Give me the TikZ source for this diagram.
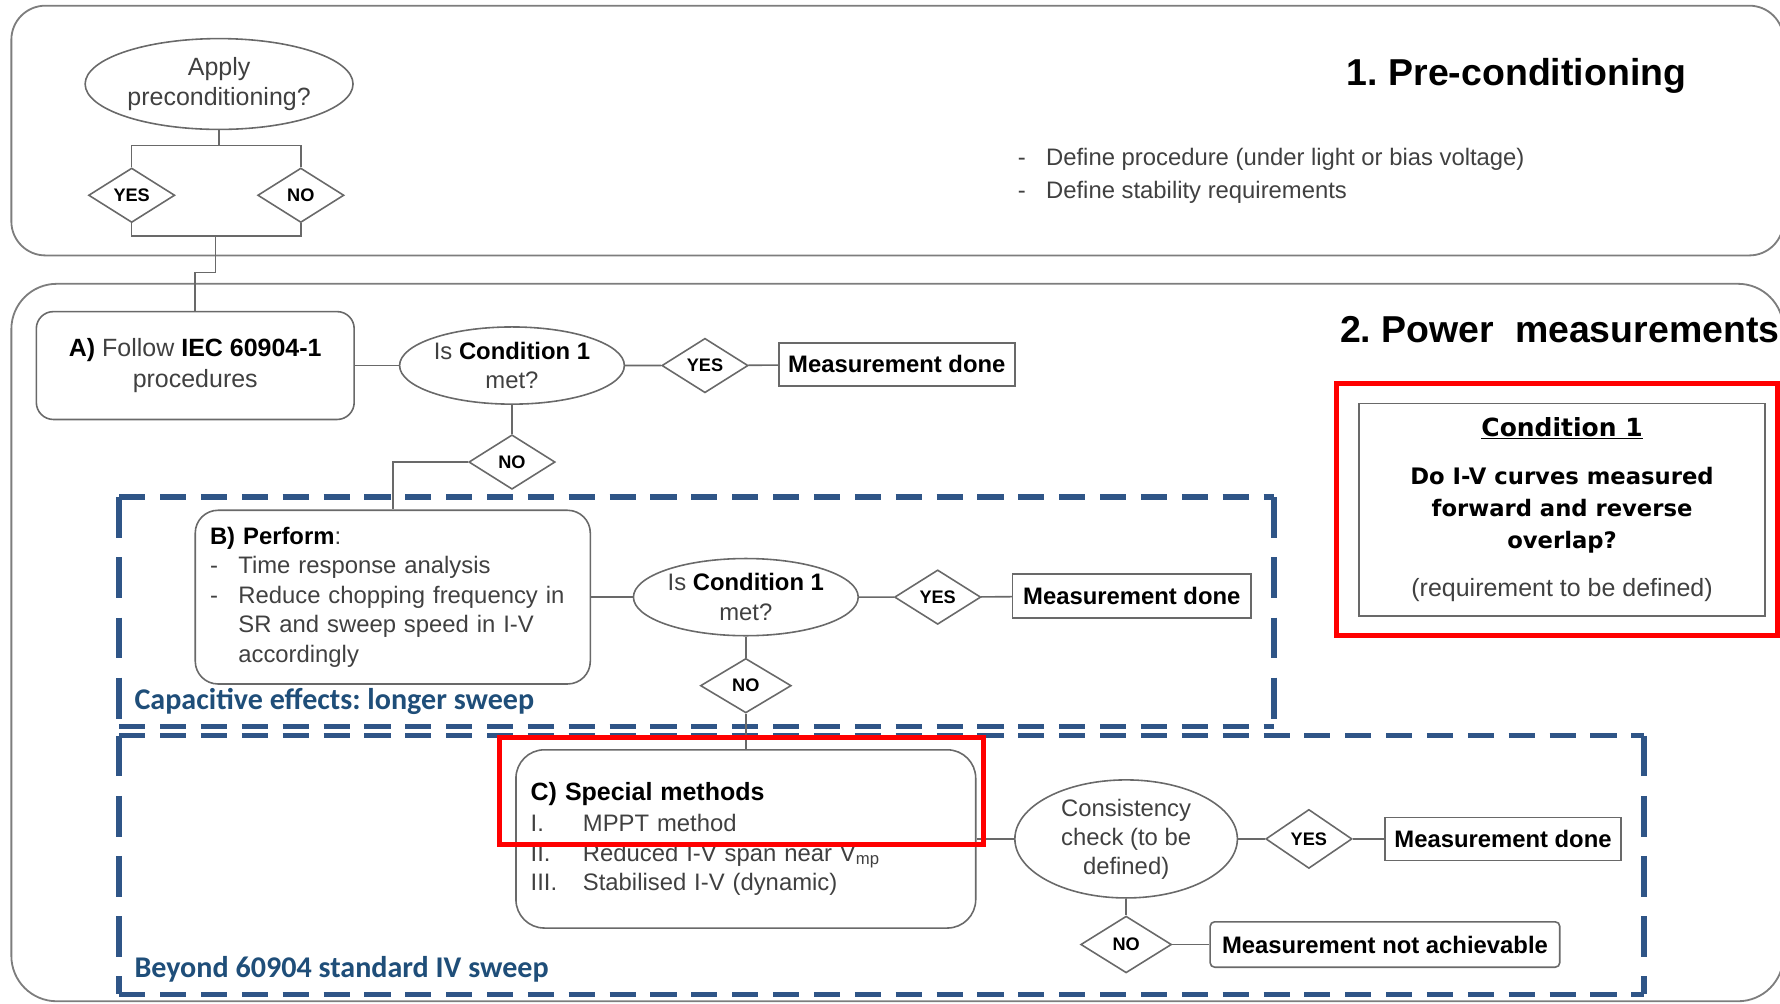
\documentclass[tikz,border=0pt]{standalone}
\usepackage{fontspec}
\setmainfont{Liberation Sans}
\newfontfamily\verdfont{DejaVu Sans}
\newfontfamily\calfont{Carlito}
\usetikzlibrary{shapes.geometric}
\usetikzlibrary{positioning}
\definecolor{mgray}{RGB}{64, 64, 64}
\definecolor{mline}{RGB}{105, 105, 105}
\definecolor{mframe}{RGB}{125, 125, 125}
\definecolor{mdash}{RGB}{47, 85, 135}
\definecolor{mteal}{RGB}{31, 78, 121}
\definecolor{mred}{RGB}{255, 0, 0}
\newcommand{\dashitem}{\makebox[25pt][l]{-}}
\newcommand{\romitem}[1]{\makebox[46pt][l]{#1}}
\frenchspacing

\begin{document}
\begin{tikzpicture}[x=1pt, y=-1pt,
    question/.style={ellipse, draw=mline, line width=1.4pt, inner sep=0pt, align=center, text=mgray, font=\fontsize{21}{26}\selectfont},
    answer/.style={diamond, draw=mline, line width=1.4pt, inner sep=0pt, minimum width=76pt, minimum height=48pt, font=\fontsize{16}{18}\selectfont\bfseries},
    outcome/.style={rectangle, draw=mline, line width=1.4pt, inner sep=0pt, minimum width=208pt, minimum height=38pt, font=\fontsize{21}{24}\selectfont\bfseries},
    procbox/.style={rectangle, draw=mline, line width=1.4pt, text=mgray, inner xsep=13pt},
    link/.style={draw=mline, line width=1.4pt},
    stage/.style={draw=mframe, line width=1.6pt},
    region/.style={draw=mdash, line width=5pt, dash pattern=on 23pt off 13pt},
    regionside/.style={region, dash pattern=on 36pt off 17pt},
    hilite/.style={draw=mred, line width=4.5pt},
    tag/.style={anchor=base west, text=mteal, font=\calfont\bfseries\fontsize{26.5}{30}\selectfont},
    heading/.style={anchor=base west, font=\bfseries\fontsize{33}{38}\selectfont},
  ]
    \useasboundingbox (0, 0) rectangle (1568, 884);
    \clip (0, 0) rectangle (1568, 884);

    % the two stages
    \draw [stage, rounded corners=30pt] (10, 5) rectangle (1571, 225);
    \draw [stage, rounded corners=40pt] (10, 250) rectangle (1571, 882);
    \draw [region] (105, 438) -- (1122, 438) (105, 640) -- (1122, 640);
    \draw [regionside] (105, 438) -- (105, 640) (1122, 438) -- (1122, 640);
    \draw [region] (105, 648) -- (1448, 648) (105, 876) -- (1448, 876);
    \draw [regionside] (105, 648) -- (105, 876) (1448, 648) -- (1448, 876);

    \node [heading] (pretitle) at (1183, 75) {1. Pre-conditioning};
    \node [heading] (powtitle) at (1177, 302) {2. Power~ measurements};
    \node [anchor=base west, align=left, text=mgray, font=\fontsize{21}{29}\selectfont] (prenotes) at (893, 175)
      {\dashitem Define procedure (under light or bias voltage)\\ \dashitem Define stability requirements};

    % pre-conditioning choice
    \node [question, minimum width=236pt, minimum height=80pt, font=\fontsize{22}{27}\selectfont] (apply) at (193, 74) {Apply\\ preconditioning?};
    \node [answer] (pyes) at (116, 172) {YES};
    \node [answer] (pno) at (265, 172) {NO};
    \coordinate (split) at (193, 128);
    \coordinate (merge) at (190, 208);

    % A) standard procedure
    \node [procbox, rounded corners=15pt, minimum width=280pt, minimum height=95pt, align=center, font=\fontsize{22}{28}\selectfont] (procA) at (172, 322)
      {\textcolor{black}{\textbf{A)}} Follow \textcolor{black}{\textbf{IEC 60904-1}}\\ procedures};
    \node [question, minimum width=198pt, minimum height=68pt] (cond1) at (451, 322) {Is \textcolor{black}{\textbf{Condition 1}}\\ met?};
    \node [answer] (yes1) at (621, 322) {YES};
    \node [outcome] (done1) at (790, 321) {Measurement done};
    \node [answer] (no1) at (451, 407) {NO};

    % B) longer sweep
    \node [procbox, rounded corners=20pt, minimum width=348pt, minimum height=153pt, text width=322pt, align=left, font=\fontsize{21}{26}\selectfont] (procB) at (346, 526)
      {\textcolor{black}{\textbf{B) Perform}}:\\ \dashitem Time response analysis\\ \dashitem Reduce chopping frequency in\\ \hspace*{25pt}SR and sweep speed in I-V\\ \hspace*{25pt}accordingly};
    \node [question, minimum width=198pt, minimum height=68pt] (cond2) at (657, 526) {Is \textcolor{black}{\textbf{Condition 1}}\\ met?};
    \node [answer] (yes2) at (826, 526) {YES};
    \node [outcome, minimum width=210pt, minimum height=39pt] (done2) at (997, 525) {Measurement done};
    \node [answer, minimum width=80pt] (no2) at (657, 604) {NO};

    % C) special methods
    \node [procbox, rounded corners=25pt, minimum width=405pt, minimum height=157pt, text width=379pt, align=left, font=\fontsize{21}{26}\selectfont] (procC) at (657, 739)
      {\textcolor{black}{\bfseries\fontsize{22}{26}\selectfont C) Special methods}\\[2pt] \romitem{I.}MPPT method\\ \romitem{II.}Reduced I-V span near V\textsubscript{mp}\\ \romitem{III.}Stabilised I-V (dynamic)};
    \node [question, minimum width=196pt, minimum height=104pt, font=\fontsize{21}{25.5}\selectfont] (check) at (992, 739) {Consistency\\ check (to be\\ defined)};
    \node [answer, minimum height=52pt] (yes3) at (1153, 739) {YES};
    \node [outcome] (done3) at (1324, 739) {Measurement done};
    \node [answer, minimum width=80pt, minimum height=50pt] (no3) at (992, 832) {NO};
    \node [outcome, rounded corners=4pt, minimum width=308pt, minimum height=40pt] (fail) at (1220, 832) {Measurement not achievable};

    % condition box
    \node [rectangle, draw=mline, line width=1.4pt, minimum width=358pt, minimum height=187pt, align=center, font=\fontsize{20}{28.5}\selectfont] (condbox) at (1376, 449)
      {{\verdfont\bfseries\fontsize{22}{24}\selectfont\underline{Condition 1}}\\[13.5pt]
       {\verdfont\bfseries Do I-V curves measured}\\ {\verdfont\bfseries forward and reverse}\\ {\verdfont\bfseries overlap?}\\[13.5pt]
       {\color{mgray}\fontsize{22}{26}\selectfont(requirement to be defined)}};

    % connectors
    \draw [link] (apply.south) -- (split);
    \draw [link] (pyes.north) |- (split) -| (pno.north);
    \draw [link] (pyes.south) |- (merge) -| (pno.south);
    \draw [link] (merge) -- ++(0, 32) -| (procA.north);
    \draw [link] (procA.east) -- (cond1.west);
    \draw [link] (cond1) -- (yes1) -- (done1);
    \draw [link] (cond1) -- (no1);
    \draw [link] (no1.west) -| (procB.north);
    \draw [link] (procB.east) -- (cond2.west);
    \draw [link] (cond2) -- (yes2) -- (done2);
    \draw [link] (cond2) -- (no2) -- (procC);
    \draw [link] (procC.east) -- (check.west);
    \draw [link] (check) -- (yes3) -- (done3);
    \draw [link] (check) -- (no3);
    \draw [link] (no3.east) -- (fail.west);

    % highlights and region labels
    \draw [hilite] (1177, 338) rectangle (1566, 560);
    \draw [hilite] (440, 650) rectangle (866, 744);
    \node [tag] (capfx) at (115, 625) {Capacitive effects: longer sweep};
    \node [tag] (beyond) at (115, 861) {Beyond 60904 standard IV sweep};
  \end{tikzpicture}
\end{document}
